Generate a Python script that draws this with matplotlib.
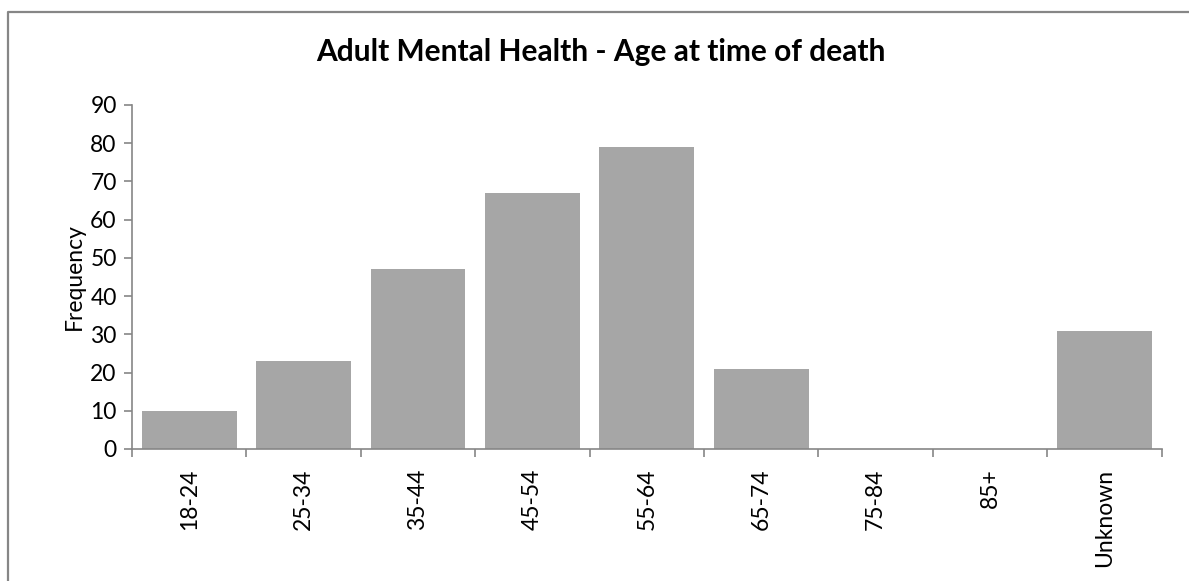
import numpy as np
import matplotlib
matplotlib.use("Agg")
import matplotlib.pyplot as plt
from matplotlib.lines import Line2D

# Age bands and counts
age_bands = ["18-24", "25-34", "35-44", "45-54", "55-64", "65-74", "75-84", "85+", "Unknown"]
counts = [10, 23, 47, 67, 79, 21, 0, 0, 31]

plt.rcParams['font.family'] = ['Lato', 'DejaVu Sans']
axis_grey = '#868686'

fig = plt.figure(figsize=(11.89, 5.81), dpi=100)
ax = fig.add_axes([0.111, 0.2272, 0.866, 0.5921])

x = np.arange(len(age_bands))
ax.bar(x, counts, width=0.83, color='#A6A6A6', zorder=2)

ax.set_xlim(-0.5, len(age_bands) - 0.5)
ax.set_ylim(0, 90)
ax.set_yticks(np.arange(0, 91, 10))
ax.tick_params(axis='y', labelsize=16.5, colors=axis_grey, labelcolor='black',
               length=6, direction='out', width=1.2, pad=5)

# category ticks at the boundaries, labels at the centres
ax.set_xticks(np.arange(-0.5, len(age_bands), 1.0))
ax.set_xticklabels([])
ax.set_xticks(x, minor=True)
ax.set_xticklabels(age_bands, minor=True, rotation=90, fontsize=16.5, va='top')
ax.tick_params(axis='x', which='major', colors=axis_grey, length=6, width=1.2)
ax.tick_params(axis='x', which='minor', length=0, pad=14)

for side in ['top', 'right']:
    ax.spines[side].set_visible(False)
for side in ['left', 'bottom']:
    ax.spines[side].set_color(axis_grey)
    ax.spines[side].set_linewidth(1.2)

ax.set_ylabel("Frequency", fontsize=16.5, labelpad=4)
fig.text(0.505, 0.91, "Adult Mental Health - Age at time of death",
         ha='center', va='center', fontsize=21.5, fontweight='bold')

# chart border, only the top and left edges show in the crop
bx = 7.5 / 1189
by = 1 - 11.5 / 581
fig.lines.append(Line2D([bx, bx, 1.0], [0.0, by, by], transform=fig.transFigure,
                        color='#868686', linewidth=1.6))

fig.savefig("out.png", dpi=100)
